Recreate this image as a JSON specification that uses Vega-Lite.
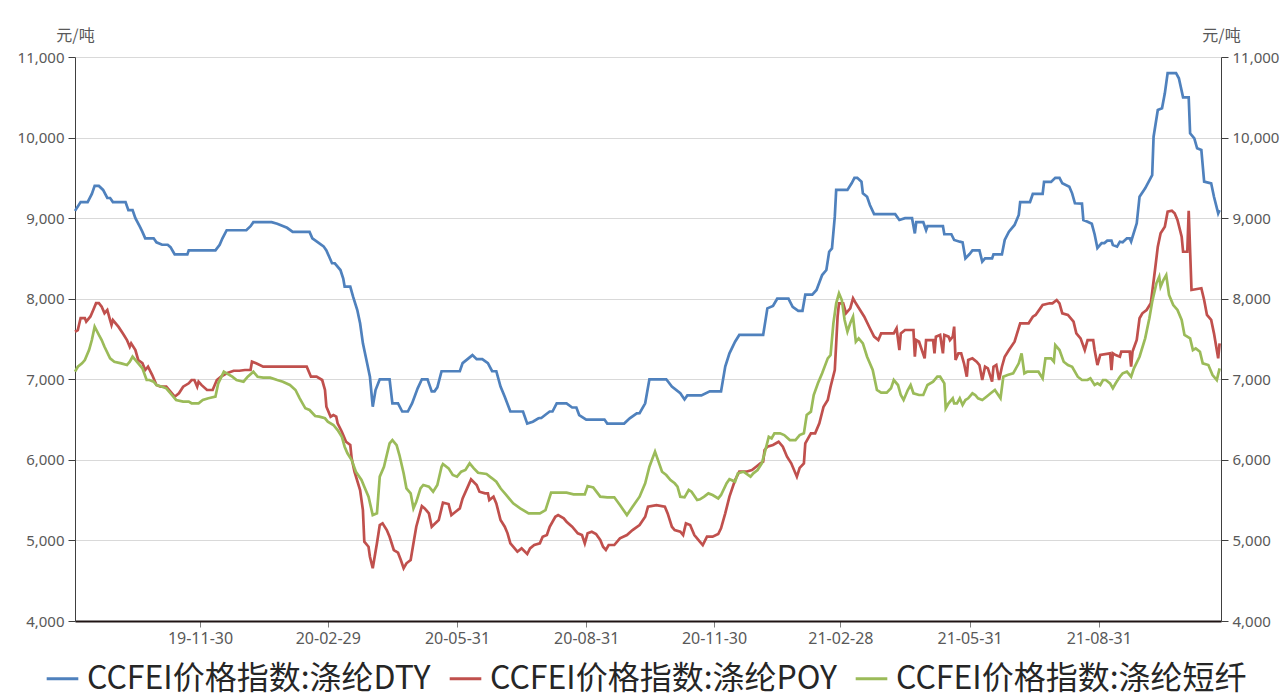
{
 "$schema": "https://vega.github.io/schema/vega-lite/v6.json",
 "width": 1146, "height": 564,
 "autosize": {"type": "none"},
 "padding": {"left": 75, "top": 57, "right": 63, "bottom": 76},
 "background": "white",
 "config": {
  "view": {"stroke": null},
  "font": "Noto Sans",
  "axis": {"labelFont": "Noto Sans", "labelFontSize": 15, "labelColor": "#595959", "titleFont": "Noto Sans CJK SC", "titleFontSize": 16, "titleFontWeight": "normal", "titleColor": "#595959"},
  "legend": {"labelFont": "Noto Sans CJK SC", "labelFontSize": 32, "labelColor": "#262626", "labelLimit": 800, "labelOffset": 7, "symbolType": "stroke", "symbolStrokeWidth": 3, "symbolSize": 1000, "columnPadding": 12, "padding": 0}
 },
 "data": {"values": [
{"d":"2019-09-02","s":"DTY","v":9090},{"d":"2019-09-06","s":"DTY","v":9200},{"d":"2019-09-11","s":"DTY","v":9200},{"d":"2019-09-14","s":"DTY","v":9300},{"d":"2019-09-16","s":"DTY","v":9400},{"d":"2019-09-19","s":"DTY","v":9400},{"d":"2019-09-22","s":"DTY","v":9350},{"d":"2019-09-25","s":"DTY","v":9250},{"d":"2019-09-27","s":"DTY","v":9250},{"d":"2019-09-29","s":"DTY","v":9200},{"d":"2019-10-08","s":"DTY","v":9200},{"d":"2019-10-10","s":"DTY","v":9100},{"d":"2019-10-13","s":"DTY","v":9100},{"d":"2019-10-15","s":"DTY","v":9000},{"d":"2019-10-18","s":"DTY","v":8900},{"d":"2019-10-20","s":"DTY","v":8830},{"d":"2019-10-22","s":"DTY","v":8750},{"d":"2019-10-28","s":"DTY","v":8750},{"d":"2019-10-30","s":"DTY","v":8700},{"d":"2019-11-03","s":"DTY","v":8670},{"d":"2019-11-07","s":"DTY","v":8670},{"d":"2019-11-09","s":"DTY","v":8640},{"d":"2019-11-11","s":"DTY","v":8580},{"d":"2019-11-12","s":"DTY","v":8550},{"d":"2019-11-21","s":"DTY","v":8550},{"d":"2019-11-22","s":"DTY","v":8600},{"d":"2019-12-11","s":"DTY","v":8600},{"d":"2019-12-14","s":"DTY","v":8670},{"d":"2019-12-16","s":"DTY","v":8750},{"d":"2019-12-19","s":"DTY","v":8850},{"d":"2020-01-02","s":"DTY","v":8850},{"d":"2020-01-05","s":"DTY","v":8900},{"d":"2020-01-07","s":"DTY","v":8950},{"d":"2020-01-20","s":"DTY","v":8950},{"d":"2020-01-24","s":"DTY","v":8930},{"d":"2020-01-31","s":"DTY","v":8880},{"d":"2020-02-04","s":"DTY","v":8830},{"d":"2020-02-16","s":"DTY","v":8830},{"d":"2020-02-18","s":"DTY","v":8750},{"d":"2020-02-22","s":"DTY","v":8700},{"d":"2020-02-26","s":"DTY","v":8650},{"d":"2020-02-28","s":"DTY","v":8600},{"d":"2020-03-01","s":"DTY","v":8520},{"d":"2020-03-03","s":"DTY","v":8440},{"d":"2020-03-05","s":"DTY","v":8440},{"d":"2020-03-09","s":"DTY","v":8356},{"d":"2020-03-11","s":"DTY","v":8250},{"d":"2020-03-12","s":"DTY","v":8150},{"d":"2020-03-16","s":"DTY","v":8150},{"d":"2020-03-18","s":"DTY","v":8025},{"d":"2020-03-21","s":"DTY","v":7860},{"d":"2020-03-23","s":"DTY","v":7695},{"d":"2020-03-25","s":"DTY","v":7446},{"d":"2020-03-28","s":"DTY","v":7198},{"d":"2020-03-30","s":"DTY","v":7032},{"d":"2020-04-01","s":"DTY","v":6660},{"d":"2020-04-03","s":"DTY","v":6867},{"d":"2020-04-06","s":"DTY","v":7000},{"d":"2020-04-13","s":"DTY","v":7000},{"d":"2020-04-15","s":"DTY","v":6700},{"d":"2020-04-19","s":"DTY","v":6700},{"d":"2020-04-22","s":"DTY","v":6600},{"d":"2020-04-26","s":"DTY","v":6600},{"d":"2020-04-29","s":"DTY","v":6700},{"d":"2020-05-03","s":"DTY","v":6888},{"d":"2020-05-06","s":"DTY","v":7000},{"d":"2020-05-10","s":"DTY","v":7000},{"d":"2020-05-13","s":"DTY","v":6850},{"d":"2020-05-15","s":"DTY","v":6850},{"d":"2020-05-17","s":"DTY","v":6900},{"d":"2020-05-20","s":"DTY","v":7100},{"d":"2020-06-02","s":"DTY","v":7100},{"d":"2020-06-04","s":"DTY","v":7200},{"d":"2020-06-11","s":"DTY","v":7300},{"d":"2020-06-14","s":"DTY","v":7250},{"d":"2020-06-18","s":"DTY","v":7250},{"d":"2020-06-22","s":"DTY","v":7200},{"d":"2020-06-25","s":"DTY","v":7100},{"d":"2020-06-28","s":"DTY","v":7100},{"d":"2020-07-01","s":"DTY","v":6909},{"d":"2020-07-04","s":"DTY","v":6784},{"d":"2020-07-08","s":"DTY","v":6600},{"d":"2020-07-17","s":"DTY","v":6600},{"d":"2020-07-20","s":"DTY","v":6450},{"d":"2020-07-24","s":"DTY","v":6474},{"d":"2020-07-28","s":"DTY","v":6516},{"d":"2020-07-30","s":"DTY","v":6520},{"d":"2020-08-02","s":"DTY","v":6560},{"d":"2020-08-05","s":"DTY","v":6600},{"d":"2020-08-07","s":"DTY","v":6600},{"d":"2020-08-10","s":"DTY","v":6700},{"d":"2020-08-17","s":"DTY","v":6700},{"d":"2020-08-21","s":"DTY","v":6650},{"d":"2020-08-24","s":"DTY","v":6650},{"d":"2020-08-26","s":"DTY","v":6556},{"d":"2020-08-31","s":"DTY","v":6500},{"d":"2020-09-13","s":"DTY","v":6500},{"d":"2020-09-15","s":"DTY","v":6450},{"d":"2020-09-27","s":"DTY","v":6450},{"d":"2020-10-01","s":"DTY","v":6516},{"d":"2020-10-06","s":"DTY","v":6578},{"d":"2020-10-08","s":"DTY","v":6580},{"d":"2020-10-12","s":"DTY","v":6702},{"d":"2020-10-15","s":"DTY","v":7000},{"d":"2020-10-27","s":"DTY","v":7000},{"d":"2020-10-31","s":"DTY","v":6909},{"d":"2020-11-06","s":"DTY","v":6826},{"d":"2020-11-09","s":"DTY","v":6750},{"d":"2020-11-11","s":"DTY","v":6800},{"d":"2020-11-21","s":"DTY","v":6800},{"d":"2020-11-27","s":"DTY","v":6850},{"d":"2020-12-05","s":"DTY","v":6850},{"d":"2020-12-08","s":"DTY","v":7157},{"d":"2020-12-11","s":"DTY","v":7322},{"d":"2020-12-15","s":"DTY","v":7466},{"d":"2020-12-18","s":"DTY","v":7550},{"d":"2021-01-04","s":"DTY","v":7550},{"d":"2021-01-07","s":"DTY","v":7880},{"d":"2021-01-11","s":"DTY","v":7910},{"d":"2021-01-14","s":"DTY","v":8000},{"d":"2021-01-22","s":"DTY","v":8000},{"d":"2021-01-25","s":"DTY","v":7900},{"d":"2021-01-29","s":"DTY","v":7850},{"d":"2021-02-01","s":"DTY","v":7850},{"d":"2021-02-03","s":"DTY","v":8050},{"d":"2021-02-08","s":"DTY","v":8050},{"d":"2021-02-11","s":"DTY","v":8108},{"d":"2021-02-15","s":"DTY","v":8294},{"d":"2021-02-18","s":"DTY","v":8356},{"d":"2021-02-20","s":"DTY","v":8583},{"d":"2021-02-22","s":"DTY","v":8625},{"d":"2021-02-24","s":"DTY","v":9018},{"d":"2021-02-25","s":"DTY","v":9350},{"d":"2021-03-05","s":"DTY","v":9350},{"d":"2021-03-08","s":"DTY","v":9432},{"d":"2021-03-10","s":"DTY","v":9500},{"d":"2021-03-12","s":"DTY","v":9500},{"d":"2021-03-15","s":"DTY","v":9453},{"d":"2021-03-16","s":"DTY","v":9308},{"d":"2021-03-19","s":"DTY","v":9266},{"d":"2021-03-21","s":"DTY","v":9163},{"d":"2021-03-24","s":"DTY","v":9050},{"d":"2021-04-08","s":"DTY","v":9050},{"d":"2021-04-11","s":"DTY","v":8977},{"d":"2021-04-15","s":"DTY","v":9000},{"d":"2021-04-20","s":"DTY","v":9000},{"d":"2021-04-22","s":"DTY","v":8810},{"d":"2021-04-23","s":"DTY","v":8950},{"d":"2021-04-28","s":"DTY","v":8950},{"d":"2021-04-30","s":"DTY","v":8850},{"d":"2021-05-01","s":"DTY","v":8900},{"d":"2021-05-12","s":"DTY","v":8900},{"d":"2021-05-13","s":"DTY","v":8800},{"d":"2021-05-18","s":"DTY","v":8800},{"d":"2021-05-20","s":"DTY","v":8729},{"d":"2021-05-24","s":"DTY","v":8708},{"d":"2021-05-26","s":"DTY","v":8700},{"d":"2021-05-28","s":"DTY","v":8501},{"d":"2021-05-31","s":"DTY","v":8555},{"d":"2021-06-02","s":"DTY","v":8600},{"d":"2021-06-07","s":"DTY","v":8600},{"d":"2021-06-09","s":"DTY","v":8460},{"d":"2021-06-11","s":"DTY","v":8500},{"d":"2021-06-16","s":"DTY","v":8500},{"d":"2021-06-17","s":"DTY","v":8550},{"d":"2021-06-23","s":"DTY","v":8550},{"d":"2021-06-25","s":"DTY","v":8729},{"d":"2021-06-28","s":"DTY","v":8832},{"d":"2021-07-02","s":"DTY","v":8915},{"d":"2021-07-05","s":"DTY","v":9039},{"d":"2021-07-06","s":"DTY","v":9200},{"d":"2021-07-13","s":"DTY","v":9200},{"d":"2021-07-15","s":"DTY","v":9300},{"d":"2021-07-22","s":"DTY","v":9300},{"d":"2021-07-23","s":"DTY","v":9450},{"d":"2021-07-28","s":"DTY","v":9450},{"d":"2021-07-31","s":"DTY","v":9500},{"d":"2021-08-03","s":"DTY","v":9500},{"d":"2021-08-05","s":"DTY","v":9432},{"d":"2021-08-10","s":"DTY","v":9390},{"d":"2021-08-12","s":"DTY","v":9308},{"d":"2021-08-14","s":"DTY","v":9184},{"d":"2021-08-19","s":"DTY","v":9180},{"d":"2021-08-20","s":"DTY","v":8977},{"d":"2021-08-23","s":"DTY","v":8956},{"d":"2021-08-26","s":"DTY","v":8930},{"d":"2021-08-28","s":"DTY","v":8800},{"d":"2021-08-30","s":"DTY","v":8630},{"d":"2021-09-02","s":"DTY","v":8690},{"d":"2021-09-04","s":"DTY","v":8690},{"d":"2021-09-06","s":"DTY","v":8720},{"d":"2021-09-09","s":"DTY","v":8720},{"d":"2021-09-10","s":"DTY","v":8667},{"d":"2021-09-13","s":"DTY","v":8646},{"d":"2021-09-15","s":"DTY","v":8708},{"d":"2021-09-17","s":"DTY","v":8700},{"d":"2021-09-20","s":"DTY","v":8750},{"d":"2021-09-22","s":"DTY","v":8750},{"d":"2021-09-23","s":"DTY","v":8710},{"d":"2021-09-27","s":"DTY","v":8936},{"d":"2021-09-29","s":"DTY","v":9266},{"d":"2021-10-03","s":"DTY","v":9370},{"d":"2021-10-08","s":"DTY","v":9535},{"d":"2021-10-09","s":"DTY","v":10011},{"d":"2021-10-12","s":"DTY","v":10342},{"d":"2021-10-15","s":"DTY","v":10363},{"d":"2021-10-17","s":"DTY","v":10549},{"d":"2021-10-19","s":"DTY","v":10800},{"d":"2021-10-25","s":"DTY","v":10800},{"d":"2021-10-27","s":"DTY","v":10736},{"d":"2021-10-30","s":"DTY","v":10500},{"d":"2021-11-03","s":"DTY","v":10500},{"d":"2021-11-04","s":"DTY","v":10053},{"d":"2021-11-07","s":"DTY","v":9991},{"d":"2021-11-09","s":"DTY","v":9867},{"d":"2021-11-12","s":"DTY","v":9846},{"d":"2021-11-14","s":"DTY","v":9453},{"d":"2021-11-19","s":"DTY","v":9432},{"d":"2021-11-21","s":"DTY","v":9266},{"d":"2021-11-24","s":"DTY","v":9060},{"d":"2021-11-25","s":"DTY","v":9100},
{"d":"2019-09-02","s":"POY","v":7590},{"d":"2019-09-04","s":"POY","v":7610},{"d":"2019-09-06","s":"POY","v":7760},{"d":"2019-09-09","s":"POY","v":7760},{"d":"2019-09-10","s":"POY","v":7715},{"d":"2019-09-13","s":"POY","v":7780},{"d":"2019-09-15","s":"POY","v":7860},{"d":"2019-09-17","s":"POY","v":7945},{"d":"2019-09-19","s":"POY","v":7945},{"d":"2019-09-21","s":"POY","v":7900},{"d":"2019-09-23","s":"POY","v":7820},{"d":"2019-09-25","s":"POY","v":7860},{"d":"2019-09-27","s":"POY","v":7735},{"d":"2019-09-28","s":"POY","v":7675},{"d":"2019-09-29","s":"POY","v":7735},{"d":"2019-10-03","s":"POY","v":7650},{"d":"2019-10-06","s":"POY","v":7570},{"d":"2019-10-09","s":"POY","v":7487},{"d":"2019-10-11","s":"POY","v":7404},{"d":"2019-10-12","s":"POY","v":7446},{"d":"2019-10-15","s":"POY","v":7363},{"d":"2019-10-17","s":"POY","v":7240},{"d":"2019-10-20","s":"POY","v":7200},{"d":"2019-10-22","s":"POY","v":7115},{"d":"2019-10-24","s":"POY","v":7156},{"d":"2019-10-27","s":"POY","v":7053},{"d":"2019-10-30","s":"POY","v":6930},{"d":"2019-11-02","s":"POY","v":6908},{"d":"2019-11-06","s":"POY","v":6908},{"d":"2019-11-09","s":"POY","v":6846},{"d":"2019-11-12","s":"POY","v":6784},{"d":"2019-11-15","s":"POY","v":6826},{"d":"2019-11-18","s":"POY","v":6908},{"d":"2019-11-22","s":"POY","v":6950},{"d":"2019-11-24","s":"POY","v":6991},{"d":"2019-11-26","s":"POY","v":6991},{"d":"2019-11-28","s":"POY","v":6908},{"d":"2019-11-29","s":"POY","v":6970},{"d":"2019-12-01","s":"POY","v":6930},{"d":"2019-12-05","s":"POY","v":6867},{"d":"2019-12-09","s":"POY","v":6867},{"d":"2019-12-12","s":"POY","v":6991},{"d":"2019-12-15","s":"POY","v":7032},{"d":"2019-12-19","s":"POY","v":7074},{"d":"2019-12-24","s":"POY","v":7106},{"d":"2019-12-28","s":"POY","v":7106},{"d":"2020-01-01","s":"POY","v":7115},{"d":"2020-01-05","s":"POY","v":7115},{"d":"2020-01-06","s":"POY","v":7218},{"d":"2020-01-09","s":"POY","v":7198},{"d":"2020-01-14","s":"POY","v":7156},{"d":"2020-02-14","s":"POY","v":7156},{"d":"2020-02-17","s":"POY","v":7032},{"d":"2020-02-21","s":"POY","v":7032},{"d":"2020-02-25","s":"POY","v":6991},{"d":"2020-02-27","s":"POY","v":6867},{"d":"2020-02-28","s":"POY","v":6660},{"d":"2020-03-02","s":"POY","v":6536},{"d":"2020-03-04","s":"POY","v":6557},{"d":"2020-03-06","s":"POY","v":6536},{"d":"2020-03-07","s":"POY","v":6453},{"d":"2020-03-10","s":"POY","v":6349},{"d":"2020-03-13","s":"POY","v":6225},{"d":"2020-03-16","s":"POY","v":6184},{"d":"2020-03-17","s":"POY","v":6019},{"d":"2020-03-19","s":"POY","v":5853},{"d":"2020-03-23","s":"POY","v":5626},{"d":"2020-03-25","s":"POY","v":5377},{"d":"2020-03-26","s":"POY","v":4984},{"d":"2020-03-29","s":"POY","v":4922},{"d":"2020-03-30","s":"POY","v":4798},{"d":"2020-04-01","s":"POY","v":4654},{"d":"2020-04-04","s":"POY","v":4964},{"d":"2020-04-06","s":"POY","v":5191},{"d":"2020-04-08","s":"POY","v":5212},{"d":"2020-04-11","s":"POY","v":5129},{"d":"2020-04-13","s":"POY","v":5046},{"d":"2020-04-16","s":"POY","v":4881},{"d":"2020-04-19","s":"POY","v":4848},{"d":"2020-04-21","s":"POY","v":4757},{"d":"2020-04-23","s":"POY","v":4654},{"d":"2020-04-25","s":"POY","v":4716},{"d":"2020-04-28","s":"POY","v":4757},{"d":"2020-04-30","s":"POY","v":4964},{"d":"2020-05-02","s":"POY","v":5170},{"d":"2020-05-06","s":"POY","v":5427},{"d":"2020-05-08","s":"POY","v":5398},{"d":"2020-05-11","s":"POY","v":5336},{"d":"2020-05-13","s":"POY","v":5170},{"d":"2020-05-15","s":"POY","v":5204},{"d":"2020-05-18","s":"POY","v":5253},{"d":"2020-05-21","s":"POY","v":5468},{"d":"2020-05-25","s":"POY","v":5452},{"d":"2020-05-27","s":"POY","v":5315},{"d":"2020-05-30","s":"POY","v":5356},{"d":"2020-06-02","s":"POY","v":5398},{"d":"2020-06-04","s":"POY","v":5522},{"d":"2020-06-10","s":"POY","v":5758},{"d":"2020-06-14","s":"POY","v":5688},{"d":"2020-06-16","s":"POY","v":5605},{"d":"2020-06-20","s":"POY","v":5584},{"d":"2020-06-22","s":"POY","v":5584},{"d":"2020-06-23","s":"POY","v":5501},{"d":"2020-06-26","s":"POY","v":5543},{"d":"2020-06-28","s":"POY","v":5460},{"d":"2020-07-01","s":"POY","v":5253},{"d":"2020-07-04","s":"POY","v":5170},{"d":"2020-07-06","s":"POY","v":5088},{"d":"2020-07-08","s":"POY","v":4964},{"d":"2020-07-10","s":"POY","v":4922},{"d":"2020-07-13","s":"POY","v":4860},{"d":"2020-07-16","s":"POY","v":4902},{"d":"2020-07-20","s":"POY","v":4831},{"d":"2020-07-22","s":"POY","v":4902},{"d":"2020-07-25","s":"POY","v":4943},{"d":"2020-07-29","s":"POY","v":4964},{"d":"2020-07-31","s":"POY","v":5046},{"d":"2020-08-03","s":"POY","v":5067},{"d":"2020-08-05","s":"POY","v":5170},{"d":"2020-08-09","s":"POY","v":5294},{"d":"2020-08-11","s":"POY","v":5315},{"d":"2020-08-15","s":"POY","v":5274},{"d":"2020-08-17","s":"POY","v":5232},{"d":"2020-08-21","s":"POY","v":5170},{"d":"2020-08-25","s":"POY","v":5088},{"d":"2020-08-28","s":"POY","v":5067},{"d":"2020-08-30","s":"POY","v":4964},{"d":"2020-09-01","s":"POY","v":5088},{"d":"2020-09-04","s":"POY","v":5108},{"d":"2020-09-07","s":"POY","v":5080},{"d":"2020-09-10","s":"POY","v":5005},{"d":"2020-09-12","s":"POY","v":4922},{"d":"2020-09-14","s":"POY","v":4881},{"d":"2020-09-16","s":"POY","v":4943},{"d":"2020-09-20","s":"POY","v":4943},{"d":"2020-09-24","s":"POY","v":5026},{"d":"2020-09-29","s":"POY","v":5067},{"d":"2020-10-03","s":"POY","v":5129},{"d":"2020-10-08","s":"POY","v":5191},{"d":"2020-10-12","s":"POY","v":5294},{"d":"2020-10-14","s":"POY","v":5418},{"d":"2020-10-20","s":"POY","v":5439},{"d":"2020-10-26","s":"POY","v":5418},{"d":"2020-10-28","s":"POY","v":5336},{"d":"2020-10-31","s":"POY","v":5170},{"d":"2020-11-02","s":"POY","v":5129},{"d":"2020-11-06","s":"POY","v":5108},{"d":"2020-11-08","s":"POY","v":5067},{"d":"2020-11-10","s":"POY","v":5212},{"d":"2020-11-13","s":"POY","v":5191},{"d":"2020-11-16","s":"POY","v":5067},{"d":"2020-11-19","s":"POY","v":5005},{"d":"2020-11-22","s":"POY","v":4943},{"d":"2020-11-25","s":"POY","v":5046},{"d":"2020-11-29","s":"POY","v":5046},{"d":"2020-12-03","s":"POY","v":5080},{"d":"2020-12-05","s":"POY","v":5150},{"d":"2020-12-08","s":"POY","v":5336},{"d":"2020-12-11","s":"POY","v":5543},{"d":"2020-12-15","s":"POY","v":5750},{"d":"2020-12-18","s":"POY","v":5853},{"d":"2020-12-23","s":"POY","v":5853},{"d":"2020-12-27","s":"POY","v":5874},{"d":"2020-12-30","s":"POY","v":5915},{"d":"2021-01-02","s":"POY","v":5957},{"d":"2021-01-04","s":"POY","v":5977},{"d":"2021-01-05","s":"POY","v":6122},{"d":"2021-01-07","s":"POY","v":6163},{"d":"2021-01-11","s":"POY","v":6184},{"d":"2021-01-15","s":"POY","v":6225},{"d":"2021-01-18","s":"POY","v":6163},{"d":"2021-01-21","s":"POY","v":6039},{"d":"2021-01-24","s":"POY","v":5957},{"d":"2021-01-28","s":"POY","v":5791},{"d":"2021-01-30","s":"POY","v":5900},{"d":"2021-02-02","s":"POY","v":5957},{"d":"2021-02-03","s":"POY","v":6205},{"d":"2021-02-07","s":"POY","v":6329},{"d":"2021-02-10","s":"POY","v":6329},{"d":"2021-02-13","s":"POY","v":6453},{"d":"2021-02-16","s":"POY","v":6660},{"d":"2021-02-19","s":"POY","v":6743},{"d":"2021-02-21","s":"POY","v":6908},{"d":"2021-02-24","s":"POY","v":7115},{"d":"2021-02-25","s":"POY","v":7446},{"d":"2021-02-26","s":"POY","v":7777},{"d":"2021-02-27","s":"POY","v":7943},{"d":"2021-03-02","s":"POY","v":7943},{"d":"2021-03-04","s":"POY","v":7819},{"d":"2021-03-07","s":"POY","v":7881},{"d":"2021-03-09","s":"POY","v":8005},{"d":"2021-03-11","s":"POY","v":7943},{"d":"2021-03-14","s":"POY","v":7860},{"d":"2021-03-17","s":"POY","v":7777},{"d":"2021-03-21","s":"POY","v":7633},{"d":"2021-03-24","s":"POY","v":7529},{"d":"2021-03-27","s":"POY","v":7487},{"d":"2021-03-29","s":"POY","v":7570},{"d":"2021-04-03","s":"POY","v":7570},{"d":"2021-04-07","s":"POY","v":7570},{"d":"2021-04-09","s":"POY","v":7633},{"d":"2021-04-11","s":"POY","v":7363},{"d":"2021-04-12","s":"POY","v":7570},{"d":"2021-04-15","s":"POY","v":7612},{"d":"2021-04-21","s":"POY","v":7612},{"d":"2021-04-22","s":"POY","v":7280},{"d":"2021-04-23","s":"POY","v":7487},{"d":"2021-04-25","s":"POY","v":7466},{"d":"2021-04-29","s":"POY","v":7260},{"d":"2021-04-30","s":"POY","v":7487},{"d":"2021-05-05","s":"POY","v":7487},{"d":"2021-05-06","s":"POY","v":7322},{"d":"2021-05-07","s":"POY","v":7529},{"d":"2021-05-10","s":"POY","v":7550},{"d":"2021-05-12","s":"POY","v":7322},{"d":"2021-05-13","s":"POY","v":7550},{"d":"2021-05-16","s":"POY","v":7529},{"d":"2021-05-17","s":"POY","v":7487},{"d":"2021-05-19","s":"POY","v":7529},{"d":"2021-05-20","s":"POY","v":7653},{"d":"2021-05-21","s":"POY","v":7239},{"d":"2021-05-23","s":"POY","v":7322},{"d":"2021-05-25","s":"POY","v":7322},{"d":"2021-05-27","s":"POY","v":7198},{"d":"2021-05-29","s":"POY","v":7032},{"d":"2021-05-30","s":"POY","v":7239},{"d":"2021-06-02","s":"POY","v":7260},{"d":"2021-06-05","s":"POY","v":7218},{"d":"2021-06-07","s":"POY","v":7177},{"d":"2021-06-09","s":"POY","v":6991},{"d":"2021-06-11","s":"POY","v":7156},{"d":"2021-06-13","s":"POY","v":7136},{"d":"2021-06-16","s":"POY","v":6970},{"d":"2021-06-17","s":"POY","v":7156},{"d":"2021-06-19","s":"POY","v":7177},{"d":"2021-06-21","s":"POY","v":6991},{"d":"2021-06-23","s":"POY","v":7156},{"d":"2021-06-25","s":"POY","v":7280},{"d":"2021-06-28","s":"POY","v":7363},{"d":"2021-07-02","s":"POY","v":7466},{"d":"2021-07-06","s":"POY","v":7695},{"d":"2021-07-12","s":"POY","v":7695},{"d":"2021-07-15","s":"POY","v":7777},{"d":"2021-07-17","s":"POY","v":7798},{"d":"2021-07-22","s":"POY","v":7922},{"d":"2021-07-27","s":"POY","v":7943},{"d":"2021-07-29","s":"POY","v":7943},{"d":"2021-08-01","s":"POY","v":7984},{"d":"2021-08-03","s":"POY","v":7943},{"d":"2021-08-05","s":"POY","v":7819},{"d":"2021-08-09","s":"POY","v":7798},{"d":"2021-08-13","s":"POY","v":7715},{"d":"2021-08-15","s":"POY","v":7570},{"d":"2021-08-18","s":"POY","v":7508},{"d":"2021-08-21","s":"POY","v":7363},{"d":"2021-08-23","s":"POY","v":7487},{"d":"2021-08-27","s":"POY","v":7487},{"d":"2021-08-28","s":"POY","v":7363},{"d":"2021-08-30","s":"POY","v":7177},{"d":"2021-09-01","s":"POY","v":7301},{"d":"2021-09-08","s":"POY","v":7322},{"d":"2021-09-09","s":"POY","v":7115},{"d":"2021-09-10","s":"POY","v":7322},{"d":"2021-09-12","s":"POY","v":7301},{"d":"2021-09-15","s":"POY","v":7280},{"d":"2021-09-16","s":"POY","v":7343},{"d":"2021-09-22","s":"POY","v":7343},{"d":"2021-09-23","s":"POY","v":7156},{"d":"2021-09-24","s":"POY","v":7343},{"d":"2021-09-27","s":"POY","v":7487},{"d":"2021-09-29","s":"POY","v":7757},{"d":"2021-10-01","s":"POY","v":7819},{"d":"2021-10-04","s":"POY","v":7860},{"d":"2021-10-07","s":"POY","v":7943},{"d":"2021-10-10","s":"POY","v":8356},{"d":"2021-10-12","s":"POY","v":8646},{"d":"2021-10-14","s":"POY","v":8812},{"d":"2021-10-17","s":"POY","v":8894},{"d":"2021-10-19","s":"POY","v":9080},{"d":"2021-10-22","s":"POY","v":9092},{"d":"2021-10-24","s":"POY","v":9060},{"d":"2021-10-26","s":"POY","v":8977},{"d":"2021-10-29","s":"POY","v":8770},{"d":"2021-10-30","s":"POY","v":8583},{"d":"2021-11-02","s":"POY","v":8583},{"d":"2021-11-03","s":"POY","v":9090},{"d":"2021-11-05","s":"POY","v":8108},{"d":"2021-11-12","s":"POY","v":8130},{"d":"2021-11-14","s":"POY","v":7984},{"d":"2021-11-16","s":"POY","v":7798},{"d":"2021-11-19","s":"POY","v":7736},{"d":"2021-11-21","s":"POY","v":7570},{"d":"2021-11-23","s":"POY","v":7363},{"d":"2021-11-24","s":"POY","v":7260},{"d":"2021-11-25","s":"POY","v":7446},
{"d":"2019-09-02","s":"PSF","v":7094},{"d":"2019-09-04","s":"PSF","v":7156},{"d":"2019-09-07","s":"PSF","v":7198},{"d":"2019-09-09","s":"PSF","v":7239},{"d":"2019-09-12","s":"PSF","v":7363},{"d":"2019-09-14","s":"PSF","v":7487},{"d":"2019-09-16","s":"PSF","v":7653},{"d":"2019-09-19","s":"PSF","v":7550},{"d":"2019-09-21","s":"PSF","v":7487},{"d":"2019-09-23","s":"PSF","v":7404},{"d":"2019-09-27","s":"PSF","v":7260},{"d":"2019-09-30","s":"PSF","v":7218},{"d":"2019-10-05","s":"PSF","v":7198},{"d":"2019-10-09","s":"PSF","v":7177},{"d":"2019-10-11","s":"PSF","v":7218},{"d":"2019-10-13","s":"PSF","v":7280},{"d":"2019-10-16","s":"PSF","v":7218},{"d":"2019-10-20","s":"PSF","v":7136},{"d":"2019-10-23","s":"PSF","v":6991},{"d":"2019-10-25","s":"PSF","v":6991},{"d":"2019-10-28","s":"PSF","v":6970},{"d":"2019-10-30","s":"PSF","v":6929},{"d":"2019-11-03","s":"PSF","v":6908},{"d":"2019-11-06","s":"PSF","v":6888},{"d":"2019-11-10","s":"PSF","v":6805},{"d":"2019-11-13","s":"PSF","v":6743},{"d":"2019-11-18","s":"PSF","v":6722},{"d":"2019-11-22","s":"PSF","v":6722},{"d":"2019-11-24","s":"PSF","v":6702},{"d":"2019-11-29","s":"PSF","v":6702},{"d":"2019-12-02","s":"PSF","v":6743},{"d":"2019-12-06","s":"PSF","v":6764},{"d":"2019-12-11","s":"PSF","v":6784},{"d":"2019-12-13","s":"PSF","v":6950},{"d":"2019-12-17","s":"PSF","v":7094},{"d":"2019-12-19","s":"PSF","v":7074},{"d":"2019-12-23","s":"PSF","v":7032},{"d":"2019-12-26","s":"PSF","v":6991},{"d":"2019-12-31","s":"PSF","v":6970},{"d":"2020-01-03","s":"PSF","v":7032},{"d":"2020-01-07","s":"PSF","v":7094},{"d":"2020-01-10","s":"PSF","v":7032},{"d":"2020-01-14","s":"PSF","v":7020},{"d":"2020-01-19","s":"PSF","v":7020},{"d":"2020-01-24","s":"PSF","v":6991},{"d":"2020-01-28","s":"PSF","v":6970},{"d":"2020-02-02","s":"PSF","v":6929},{"d":"2020-02-06","s":"PSF","v":6867},{"d":"2020-02-09","s":"PSF","v":6764},{"d":"2020-02-13","s":"PSF","v":6640},{"d":"2020-02-16","s":"PSF","v":6619},{"d":"2020-02-20","s":"PSF","v":6544},{"d":"2020-02-23","s":"PSF","v":6536},{"d":"2020-02-27","s":"PSF","v":6516},{"d":"2020-02-29","s":"PSF","v":6474},{"d":"2020-03-04","s":"PSF","v":6433},{"d":"2020-03-07","s":"PSF","v":6370},{"d":"2020-03-10","s":"PSF","v":6287},{"d":"2020-03-12","s":"PSF","v":6163},{"d":"2020-03-14","s":"PSF","v":6081},{"d":"2020-03-17","s":"PSF","v":5998},{"d":"2020-03-20","s":"PSF","v":5853},{"d":"2020-03-24","s":"PSF","v":5750},{"d":"2020-03-26","s":"PSF","v":5667},{"d":"2020-03-29","s":"PSF","v":5543},{"d":"2020-04-01","s":"PSF","v":5315},{"d":"2020-04-04","s":"PSF","v":5336},{"d":"2020-04-06","s":"PSF","v":5791},{"d":"2020-04-09","s":"PSF","v":5915},{"d":"2020-04-11","s":"PSF","v":6060},{"d":"2020-04-13","s":"PSF","v":6205},{"d":"2020-04-15","s":"PSF","v":6246},{"d":"2020-04-18","s":"PSF","v":6184},{"d":"2020-04-20","s":"PSF","v":6060},{"d":"2020-04-23","s":"PSF","v":5833},{"d":"2020-04-25","s":"PSF","v":5647},{"d":"2020-04-28","s":"PSF","v":5584},{"d":"2020-04-30","s":"PSF","v":5398},{"d":"2020-05-02","s":"PSF","v":5481},{"d":"2020-05-05","s":"PSF","v":5647},{"d":"2020-05-07","s":"PSF","v":5688},{"d":"2020-05-11","s":"PSF","v":5667},{"d":"2020-05-14","s":"PSF","v":5605},{"d":"2020-05-17","s":"PSF","v":5688},{"d":"2020-05-20","s":"PSF","v":5915},{"d":"2020-05-21","s":"PSF","v":5948},{"d":"2020-05-25","s":"PSF","v":5895},{"d":"2020-05-28","s":"PSF","v":5812},{"d":"2020-05-31","s":"PSF","v":5791},{"d":"2020-06-03","s":"PSF","v":5853},{"d":"2020-06-06","s":"PSF","v":5874},{"d":"2020-06-09","s":"PSF","v":5957},{"d":"2020-06-12","s":"PSF","v":5895},{"d":"2020-06-15","s":"PSF","v":5840},{"d":"2020-06-21","s":"PSF","v":5824},{"d":"2020-06-25","s":"PSF","v":5771},{"d":"2020-06-28","s":"PSF","v":5729},{"d":"2020-07-01","s":"PSF","v":5647},{"d":"2020-07-02","s":"PSF","v":5626},{"d":"2020-07-05","s":"PSF","v":5564},{"d":"2020-07-10","s":"PSF","v":5460},{"d":"2020-07-15","s":"PSF","v":5398},{"d":"2020-07-21","s":"PSF","v":5336},{"d":"2020-07-29","s":"PSF","v":5336},{"d":"2020-08-02","s":"PSF","v":5377},{"d":"2020-08-06","s":"PSF","v":5593},{"d":"2020-08-17","s":"PSF","v":5593},{"d":"2020-08-22","s":"PSF","v":5572},{"d":"2020-08-30","s":"PSF","v":5572},{"d":"2020-09-01","s":"PSF","v":5675},{"d":"2020-09-05","s":"PSF","v":5658},{"d":"2020-09-10","s":"PSF","v":5543},{"d":"2020-09-15","s":"PSF","v":5535},{"d":"2020-09-20","s":"PSF","v":5535},{"d":"2020-09-24","s":"PSF","v":5439},{"d":"2020-09-29","s":"PSF","v":5315},{"d":"2020-10-03","s":"PSF","v":5418},{"d":"2020-10-08","s":"PSF","v":5543},{"d":"2020-10-12","s":"PSF","v":5709},{"d":"2020-10-15","s":"PSF","v":5915},{"d":"2020-10-19","s":"PSF","v":6102},{"d":"2020-10-24","s":"PSF","v":5853},{"d":"2020-10-27","s":"PSF","v":5812},{"d":"2020-10-30","s":"PSF","v":5750},{"d":"2020-11-02","s":"PSF","v":5709},{"d":"2020-11-04","s":"PSF","v":5667},{"d":"2020-11-06","s":"PSF","v":5543},{"d":"2020-11-09","s":"PSF","v":5535},{"d":"2020-11-12","s":"PSF","v":5626},{"d":"2020-11-14","s":"PSF","v":5605},{"d":"2020-11-18","s":"PSF","v":5501},{"d":"2020-11-20","s":"PSF","v":5510},{"d":"2020-11-23","s":"PSF","v":5543},{"d":"2020-11-26","s":"PSF","v":5584},{"d":"2020-11-29","s":"PSF","v":5564},{"d":"2020-12-03","s":"PSF","v":5522},{"d":"2020-12-05","s":"PSF","v":5564},{"d":"2020-12-09","s":"PSF","v":5710},{"d":"2020-12-11","s":"PSF","v":5760},{"d":"2020-12-15","s":"PSF","v":5730},{"d":"2020-12-17","s":"PSF","v":5833},{"d":"2020-12-21","s":"PSF","v":5853},{"d":"2020-12-26","s":"PSF","v":5791},{"d":"2020-12-28","s":"PSF","v":5833},{"d":"2020-12-31","s":"PSF","v":5874},{"d":"2021-01-03","s":"PSF","v":5957},{"d":"2021-01-05","s":"PSF","v":6081},{"d":"2021-01-08","s":"PSF","v":6287},{"d":"2021-01-10","s":"PSF","v":6267},{"d":"2021-01-12","s":"PSF","v":6329},{"d":"2021-01-16","s":"PSF","v":6329},{"d":"2021-01-19","s":"PSF","v":6308},{"d":"2021-01-23","s":"PSF","v":6246},{"d":"2021-01-27","s":"PSF","v":6246},{"d":"2021-01-30","s":"PSF","v":6308},{"d":"2021-02-02","s":"PSF","v":6329},{"d":"2021-02-04","s":"PSF","v":6556},{"d":"2021-02-07","s":"PSF","v":6598},{"d":"2021-02-09","s":"PSF","v":6805},{"d":"2021-02-12","s":"PSF","v":6950},{"d":"2021-02-15","s":"PSF","v":7074},{"d":"2021-02-19","s":"PSF","v":7260},{"d":"2021-02-21","s":"PSF","v":7301},{"d":"2021-02-23","s":"PSF","v":7695},{"d":"2021-02-25","s":"PSF","v":7943},{"d":"2021-02-27","s":"PSF","v":8067},{"d":"2021-03-01","s":"PSF","v":7984},{"d":"2021-03-03","s":"PSF","v":7736},{"d":"2021-03-05","s":"PSF","v":7591},{"d":"2021-03-07","s":"PSF","v":7695},{"d":"2021-03-09","s":"PSF","v":7777},{"d":"2021-03-11","s":"PSF","v":7466},{"d":"2021-03-13","s":"PSF","v":7508},{"d":"2021-03-16","s":"PSF","v":7446},{"d":"2021-03-19","s":"PSF","v":7280},{"d":"2021-03-23","s":"PSF","v":7115},{"d":"2021-03-26","s":"PSF","v":6867},{"d":"2021-03-29","s":"PSF","v":6834},{"d":"2021-04-02","s":"PSF","v":6834},{"d":"2021-04-05","s":"PSF","v":6888},{"d":"2021-04-07","s":"PSF","v":6991},{"d":"2021-04-10","s":"PSF","v":6929},{"d":"2021-04-12","s":"PSF","v":6805},{"d":"2021-04-14","s":"PSF","v":6743},{"d":"2021-04-17","s":"PSF","v":6867},{"d":"2021-04-19","s":"PSF","v":6929},{"d":"2021-04-21","s":"PSF","v":6826},{"d":"2021-04-25","s":"PSF","v":6805},{"d":"2021-04-28","s":"PSF","v":6805},{"d":"2021-05-01","s":"PSF","v":6929},{"d":"2021-05-05","s":"PSF","v":6970},{"d":"2021-05-08","s":"PSF","v":7032},{"d":"2021-05-10","s":"PSF","v":7032},{"d":"2021-05-13","s":"PSF","v":6950},{"d":"2021-05-14","s":"PSF","v":6640},{"d":"2021-05-16","s":"PSF","v":6702},{"d":"2021-05-19","s":"PSF","v":6764},{"d":"2021-05-20","s":"PSF","v":6702},{"d":"2021-05-22","s":"PSF","v":6702},{"d":"2021-05-24","s":"PSF","v":6764},{"d":"2021-05-26","s":"PSF","v":6681},{"d":"2021-05-28","s":"PSF","v":6743},{"d":"2021-05-30","s":"PSF","v":6764},{"d":"2021-06-02","s":"PSF","v":6826},{"d":"2021-06-04","s":"PSF","v":6805},{"d":"2021-06-06","s":"PSF","v":6764},{"d":"2021-06-09","s":"PSF","v":6743},{"d":"2021-06-12","s":"PSF","v":6784},{"d":"2021-06-15","s":"PSF","v":6826},{"d":"2021-06-18","s":"PSF","v":6867},{"d":"2021-06-22","s":"PSF","v":6764},{"d":"2021-06-24","s":"PSF","v":7032},{"d":"2021-06-27","s":"PSF","v":7053},{"d":"2021-07-01","s":"PSF","v":7074},{"d":"2021-07-05","s":"PSF","v":7198},{"d":"2021-07-07","s":"PSF","v":7322},{"d":"2021-07-09","s":"PSF","v":7074},{"d":"2021-07-11","s":"PSF","v":7094},{"d":"2021-07-19","s":"PSF","v":7094},{"d":"2021-07-22","s":"PSF","v":7012},{"d":"2021-07-24","s":"PSF","v":7260},{"d":"2021-07-28","s":"PSF","v":7260},{"d":"2021-07-30","s":"PSF","v":7218},{"d":"2021-07-31","s":"PSF","v":7425},{"d":"2021-08-03","s":"PSF","v":7363},{"d":"2021-08-06","s":"PSF","v":7218},{"d":"2021-08-09","s":"PSF","v":7177},{"d":"2021-08-12","s":"PSF","v":7156},{"d":"2021-08-16","s":"PSF","v":7032},{"d":"2021-08-19","s":"PSF","v":6991},{"d":"2021-08-23","s":"PSF","v":6991},{"d":"2021-08-25","s":"PSF","v":7012},{"d":"2021-08-28","s":"PSF","v":6929},{"d":"2021-08-30","s":"PSF","v":6950},{"d":"2021-09-01","s":"PSF","v":6929},{"d":"2021-09-03","s":"PSF","v":6991},{"d":"2021-09-05","s":"PSF","v":6991},{"d":"2021-09-08","s":"PSF","v":6950},{"d":"2021-09-10","s":"PSF","v":6888},{"d":"2021-09-12","s":"PSF","v":6950},{"d":"2021-09-15","s":"PSF","v":7032},{"d":"2021-09-17","s":"PSF","v":7074},{"d":"2021-09-20","s":"PSF","v":7094},{"d":"2021-09-23","s":"PSF","v":7032},{"d":"2021-09-25","s":"PSF","v":7136},{"d":"2021-09-29","s":"PSF","v":7280},{"d":"2021-10-03","s":"PSF","v":7508},{"d":"2021-10-06","s":"PSF","v":7757},{"d":"2021-10-08","s":"PSF","v":7963},{"d":"2021-10-11","s":"PSF","v":8191},{"d":"2021-10-13","s":"PSF","v":8273},{"d":"2021-10-14","s":"PSF","v":8149},{"d":"2021-10-16","s":"PSF","v":8232},{"d":"2021-10-18","s":"PSF","v":8294},{"d":"2021-10-20","s":"PSF","v":8046},{"d":"2021-10-23","s":"PSF","v":7922},{"d":"2021-10-26","s":"PSF","v":7860},{"d":"2021-10-29","s":"PSF","v":7736},{"d":"2021-10-31","s":"PSF","v":7550},{"d":"2021-11-04","s":"PSF","v":7508},{"d":"2021-11-06","s":"PSF","v":7363},{"d":"2021-11-08","s":"PSF","v":7384},{"d":"2021-11-11","s":"PSF","v":7343},{"d":"2021-11-13","s":"PSF","v":7198},{"d":"2021-11-17","s":"PSF","v":7177},{"d":"2021-11-20","s":"PSF","v":7053},{"d":"2021-11-23","s":"PSF","v":6991},{"d":"2021-11-25","s":"PSF","v":7136}
 ]},
 "layer": [
  {
   "mark": {"type": "line", "strokeWidth": 2.7},
   "encoding": {
    "x": {"field": "d", "type": "temporal",
     "scale": {"type": "utc", "domain": [{"year": 2019, "month": 9, "date": 2, "utc": true}, {"year": 2021, "month": 11, "date": 26, "utc": true}]},
     "axis": {"title": null, "format": "%y-%m-%d", "grid": false,
      "values": [{"year": 2019, "month": 11, "date": 30, "utc": true}, {"year": 2020, "month": 2, "date": 29, "utc": true}, {"year": 2020, "month": 5, "date": 31, "utc": true}, {"year": 2020, "month": 8, "date": 31, "utc": true}, {"year": 2020, "month": 11, "date": 30, "utc": true}, {"year": 2021, "month": 2, "date": 28, "utc": true}, {"year": 2021, "month": 5, "date": 31, "utc": true}, {"year": 2021, "month": 8, "date": 31, "utc": true}],
      "domainColor": "#1f1414", "domainWidth": 2, "tickColor": "#7f7f7f", "tickSize": 6, "labelPadding": 3, "labelFontSize": 16}},
    "y": {"field": "v", "type": "quantitative",
     "scale": {"domain": [4000, 11000], "nice": false, "zero": false},
     "axis": {"orient": "left", "values": [4000, 5000, 6000, 7000, 8000, 9000, 10000, 11000], "format": ",d", "grid": true, "gridColor": "#d9d9d9", "gridWidth": 1, "domainColor": "#404040", "tickColor": "#404040", "tickSize": 7, "labelPadding": 4,
      "title": "元/吨", "titleAngle": 0, "titleAlign": "center", "titleBaseline": "alphabetic", "titleX": 0, "titleY": -17}},
    "color": {"field": "s", "type": "nominal",
     "scale": {"domain": ["DTY", "POY", "PSF"], "range": ["#4F81BD", "#C0504D", "#9BBB59"]},
     "legend": {"title": null, "orient": "none", "legendX": -30, "legendY": 604, "direction": "horizontal", "labelExpr": "datum.value == 'PSF' ? 'CCFEI价格指数:涤纶短纤' : 'CCFEI价格指数:涤纶' + datum.value"}}
   }
  },
  {
   "mark": {"type": "point", "opacity": 0},
   "encoding": {
    "x": {"field": "d", "type": "temporal"},
    "y": {"field": "v", "type": "quantitative",
     "axis": {"orient": "right", "values": [4000, 5000, 6000, 7000, 8000, 9000, 10000, 11000], "format": ",d", "grid": false, "domainColor": "#404040", "tickColor": "#404040", "tickSize": 7, "labelPadding": 4,
      "title": "元/吨", "titleAngle": 0, "titleAlign": "center", "titleBaseline": "alphabetic", "titleX": 0, "titleY": -17}}
   }
  }
 ],
 "resolve": {"axis": {"y": "independent"}}
}
